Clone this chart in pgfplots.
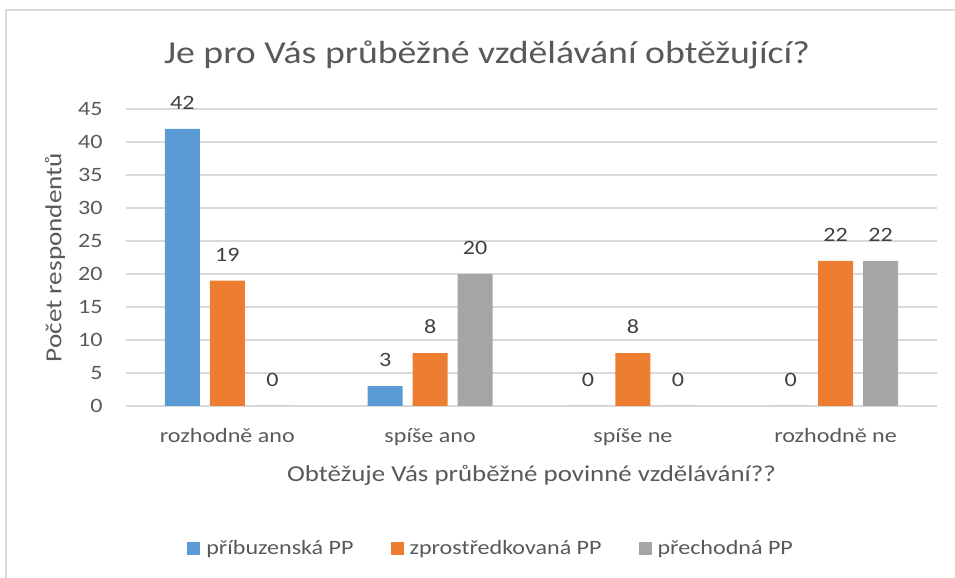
\documentclass[border=0pt]{standalone}
\usepackage{fontspec}
\setmainfont{Carlito}[FakeStretch=1.18]
\usepackage{pgfplots}
\usepackage{pgfplotstable}
\pgfplotsset{compat=1.18}

\definecolor{cblue}{HTML}{5B9BD5}
\definecolor{corange}{HTML}{ED7D31}
\definecolor{cgray}{HTML}{A5A5A5}
\definecolor{txt}{HTML}{595959}
\definecolor{lbl}{HTML}{404040}
\definecolor{gridc}{HTML}{D9D9D9}

% answers per category (0..3) for the three groups
\pgfplotstableread{
x a  b  c
0 42 19 0
1 3  8  20
2 0  8  0
3 0  22 22
}\answers

\begin{document}
\begin{tikzpicture}
\useasboundingbox (0,0) rectangle (477.5pt,289pt);
\draw[gridc, line width=1pt] (3pt,0) -- (3pt,283.75pt) -- (477.5pt,283.75pt);

\begin{axis}[
    at={(63pt,86pt)}, anchor=south west,
    width=405.5pt, height=148.5pt, scale only axis,
    ybar=5pt, bar width=17.5pt,
    xmin=-0.5, xmax=3.5, ymin=0, ymax=45,
    xtick={0,1,2,3},
    xticklabels={rozhodně ano, spíše ano, spíše ne, rozhodně ne},
    ytick={0,5,...,45},
    major tick length=0pt,
    axis x line*=bottom, axis y line*=left,
    x axis line style={-, draw=gridc, line width=1pt},
    y axis line style={draw=none},
    ymajorgrids, grid style={gridc, line width=0.75pt},
    /pgf/number format/assume math mode=true,
    tick label style={font=\fontsize{10.2}{12}\selectfont, text=txt},
    yticklabel style={inner sep=0pt, anchor=east, xshift=-11.5pt},
    xticklabel style={inner sep=0pt, anchor=north, yshift=-11pt},
    xlabel={Obtěžuje Vás průběžné povinné vzdělávání??},
    ylabel={Počet respondentů},
    every axis x label/.style={at={(rel axis cs:0.5,-0.232)}, anchor=center,
        font=\fontsize{11.4}{13}\selectfont, text=txt},
    every axis y label/.style={at={(rel axis cs:-0.0875,0.5)}, rotate=90, anchor=center,
        font=\fontsize{11.5}{13}\selectfont, text=txt},
    nodes near coords,
    every node near coord/.append style={font=\fontsize{10.2}{12}\selectfont, text=lbl, inner sep=0pt, anchor=south, yshift=9.5pt},
    legend image code/.code={\fill[#1] (0pt,-3.25pt) rectangle (6.5pt,3.25pt);},
    legend columns=3,
    legend style={at={(0.449,-0.4798)}, anchor=center, draw=none,
        font=\fontsize{10.2}{12}\selectfont, text=txt,
        nodes={inner xsep=0pt, inner ysep=1pt},
        /tikz/every odd column/.append style={column sep=3pt},
        /tikz/every even column/.append style={column sep=18.5pt}},
    clip=false,
]
\addplot[fill=cblue, draw=none] table[x=x, y=a] {\answers};
\addlegendentry{příbuzenská PP}
\addplot[fill=corange, draw=none] table[x=x, y=b] {\answers};
\addlegendentry{zprostředkovaná PP}
\addplot[fill=cgray, draw=none] table[x=x, y=c] {\answers};
\addlegendentry{přechodná PP}
\end{axis}

\node[font=\fontsize{16}{19}\selectfont, text=txt] at (243.5pt,261.5pt)
    {Je pro Vás průběžné vzdělávání obtěžující?};
\end{tikzpicture}
\end{document}
